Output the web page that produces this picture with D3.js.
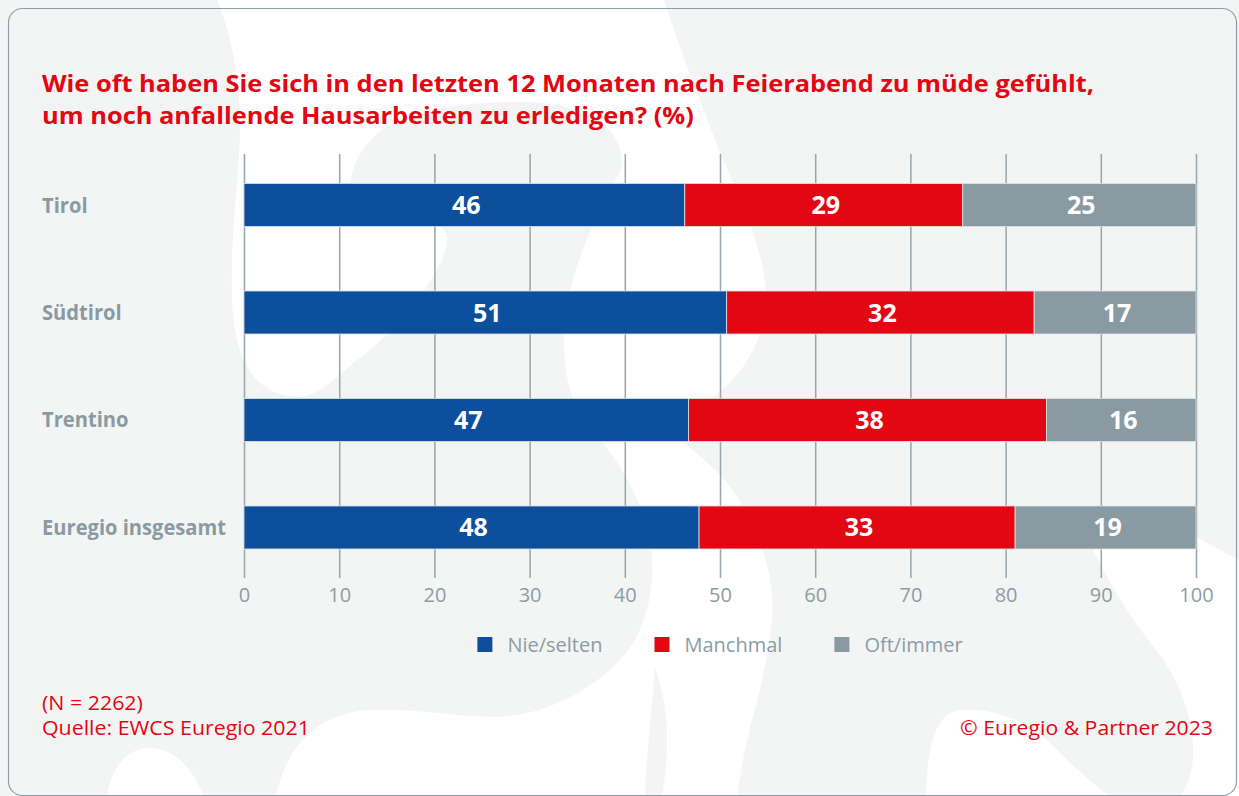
<!DOCTYPE html>
<html lang="de">
<head>
<meta charset="utf-8">
<title>Müde nach Feierabend</title>
<script src="https://cdn.jsdelivr.net/npm/d3@7"></script>
<style>
  html, body { margin: 0; padding: 0; background: #f3f4f4; }
  #chart { width: 1239px; height: 796px; }
  text { font-family: "Open Sans", "Noto Sans", sans-serif; }
</style>
</head>
<body>
<div id="chart"></div>
<script>
const categories = ["Tirol", "Südtirol", "Trentino", "Euregio insgesamt"];
const nieSelten = [46.3, 50.7, 46.7, 47.8];
const manchmal  = [29.2, 32.3, 37.6, 33.2];
const oftImmer  = [24.5, 17.0, 15.7, 19.0];
const seriesNames = ["Nie/selten", "Manchmal", "Oft/immer"];
const seriesColors = ["#0c4f9c", "#e30613", "#8a9aa2"];
const tickValues = [0, 10, 20, 30, 40, 50, 60, 70, 80, 90, 100];

const titleLines = [
  "Wie oft haben Sie sich in den letzten 12 Monaten nach Feierabend zu müde gefühlt,",
  "um noch anfallende Hausarbeiten zu erledigen? (%)"
];
const footerLines = ["(N = 2262)", "Quelle: EWCS Euregio 2021"];
const copyright = "© Euregio & Partner 2023";

const RED = "#e30613";
const GREY_TEXT = "#8d9ca4";

// shrink a group of texts so the widest one fits the target width
function fitTo(sel, target) {
  let maxW = 0;
  sel.each(function() { maxW = Math.max(maxW, this.getComputedTextLength()); });
  const k = target / maxW;
  sel.each(function() {
    const w = this.getComputedTextLength();
    d3.select(this).attr("textLength", w * k).attr("lengthAdjust", "spacingAndGlyphs");
  });
}

function draw() {
  const width = 1239, height = 796;
  const svg = d3.select("#chart").append("svg")
    .attr("width", width).attr("height", height)
    .attr("viewBox", `0 0 ${width} ${height}`);

  // background swirls
  const bg = svg.append("g");
  bg.append("rect").attr("width", width).attr("height", height).attr("fill", "#f3f4f4");
  const swirls = [
    "M217,0 L664,0 C680,50 700,100 715,140 C735,190 762,240 766,290 C768,330 748,370 719,392 " +
    "C700,408 686,425 680,440 C705,460 730,480 745,510 C765,545 775,585 772,620 " +
    "C768,670 752,715 745,750 C740,775 738,790 737,796 L662,796 C668,760 672,715 655,668 " +
    "C652,710 646,760 645,796 L276,796 C285,750 316,712 371,710 C420,708 470,720 510,716 " +
    "C560,710 610,680 635,640 C655,600 657,560 645,520 C632,480 612,455 603,443 " +
    "C575,420 562,380 564,330 C566,280 595,215 621,170 C628,135 595,103 526,102 " +
    "C465,101 405,110 375,135 C352,158 342,190 360,206 C390,222 440,215 447,235 " +
    "C452,262 400,330 353,363 C330,385 312,398 296,397 C255,395 234,360 232,300 " +
    "C230,230 240,170 240,130 C240,80 232,35 217,0 Z",
    "M107,796 C112,765 128,748 150,748 C172,748 188,765 196,780 L204,796 Z",
    "M926,796 C927,750 935,712 960,710 C990,708 1025,718 1052,745 C1075,768 1095,786 1110,796 Z",
    "M1093,550 C1110,585 1135,625 1160,655 C1185,690 1195,730 1193,757 C1192,775 1186,790 1180,796 " +
    "L1239,796 L1239,560 C1225,552 1210,545 1197,537 Z"
  ];
  bg.selectAll("path.swirl").data(swirls).enter().append("path")
    .attr("class", "swirl").attr("d", d => d).attr("fill", "#ffffff");

  svg.append("rect")
    .attr("x", 8.5).attr("y", 8.5).attr("width", 1228).attr("height", 787)
    .attr("rx", 14).attr("fill", "none")
    .attr("stroke", "#8f9ea6").attr("stroke-width", 1.2);

  // title
  const title = svg.append("g").selectAll("text").data(titleLines).enter().append("text")
    .attr("x", 42).attr("y", (d, i) => 92 + i * 32)
    .attr("fill", RED).style("font-size", "24px").style("font-weight", 700)
    .text(d => d);
  fitTo(title, 1052);

  // scales
  const x = d3.scaleLinear().domain([0, 100]).range([244, 1196]);
  const y = d3.scaleBand().domain(categories).range([154.5, 578])
    .paddingInner(0.6).paddingOuter(0.27);

  // grid + tick labels
  const axis = svg.append("g")
    .attr("transform", "translate(0,578)")
    .call(d3.axisBottom(x).tickValues(tickValues).tickSize(-(578 - 154)).tickPadding(10));
  axis.select(".domain").remove();
  axis.selectAll(".tick line").attr("stroke", "#98a5ac").attr("stroke-width", 1.5);
  axis.selectAll(".tick text")
    .attr("fill", GREY_TEXT).style("font-size", "20px")
    .style("font-family", "'Open Sans', sans-serif");

  // stacked bars
  const rows = categories.map((c, i) => ({
    cat: c, "Nie/selten": nieSelten[i], "Manchmal": manchmal[i], "Oft/immer": oftImmer[i]
  }));
  const stacked = d3.stack().keys(seriesNames)(rows);

  const layers = svg.append("g").selectAll("g").data(stacked).enter().append("g")
    .attr("fill", (d, i) => seriesColors[i]);

  layers.selectAll("rect").data(d => d).enter().append("rect")
    .attr("x", d => x(d[0]))
    .attr("y", d => y(d.data.cat))
    .attr("width", d => x(d[1]) - x(d[0]))
    .attr("height", y.bandwidth())
    .attr("stroke", "#dfe4e6").attr("stroke-width", 0.8);

  layers.selectAll("text").data(d => d).enter().append("text")
    .attr("x", d => (x(d[0]) + x(d[1])) / 2 + 2)
    .attr("y", d => y(d.data.cat) + y.bandwidth() / 2 + 9)
    .attr("text-anchor", "middle")
    .attr("fill", "#ffffff").style("font-size", "25px").style("font-weight", 700)
    .text(d => Math.round(d[1] - d[0]));

  // category labels
  const catLabels = svg.append("g").selectAll("text").data(categories).enter().append("text")
    .attr("x", 42)
    .attr("y", d => y(d) + y.bandwidth() / 2 + 7.5)
    .attr("fill", "#8a9aa3").style("font-size", "21px").style("font-weight", 700)
    .text(d => d);
  fitTo(catLabels, 184);

  // legend
  const legend = svg.append("g").attr("transform", "translate(0,637)");
  const items = legend.selectAll("g").data(seriesNames).enter().append("g");
  items.append("rect").attr("width", 15).attr("height", 15)
    .attr("fill", (d, i) => seriesColors[i]);
  items.append("text").attr("x", 30).attr("y", 15)
    .attr("fill", GREY_TEXT).style("font-size", "20px")
    .text(d => d);
  let offset = 0;
  const starts = [];
  items.each(function() {
    starts.push(offset);
    offset += 30 + d3.select(this).select("text").node().getComputedTextLength() + 52;
  });
  const total = offset - 52;
  const left = (x(0) + x(100)) / 2 - total / 2;
  items.attr("transform", (d, i) => `translate(${left + starts[i]},0)`);

  // footer
  const footer = svg.append("g").selectAll("text").data(footerLines).enter().append("text")
    .attr("x", 42).attr("y", (d, i) => 710 + i * 25)
    .attr("fill", RED).style("font-size", "20px")
    .text(d => d);
  fitTo(footer, 268);

  const copy = svg.append("text")
    .attr("x", 1213).attr("y", 735).attr("text-anchor", "end")
    .attr("fill", RED).style("font-size", "20px")
    .text(copyright);
  fitTo(copy, 253);
}

document.addEventListener("DOMContentLoaded", () => {
  if (document.fonts && document.fonts.ready) {
    document.fonts.ready.then(draw);
  } else {
    draw();
  }
});
</script>
</body>
</html>
